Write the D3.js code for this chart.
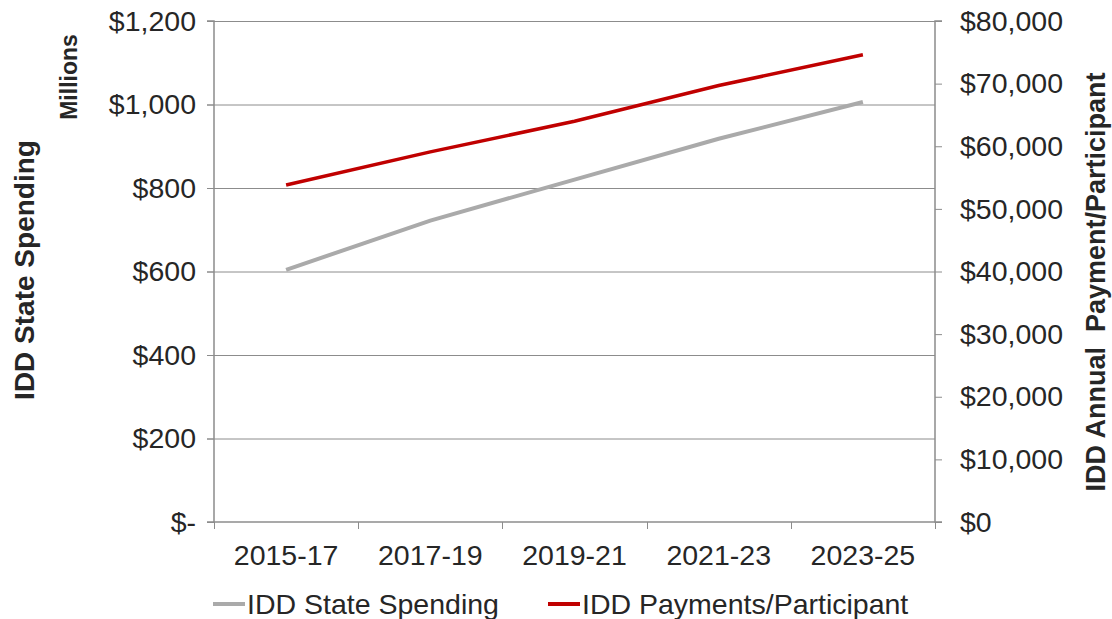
<!DOCTYPE html>
<html>
<head>
<meta charset="utf-8">
<script src="https://cdn.jsdelivr.net/npm/d3@7"></script>
<style>
  body { margin: 0; background: #fff; }
  text { font-family: "Liberation Sans", Arial, sans-serif; fill: #262626; }
</style>
</head>
<body>
<div class="chart"></div>
<script>
// data
var periods = ["2015-17", "2017-19", "2019-21", "2021-23", "2023-25"];
var stateSpending = [604, 722, 820, 918, 1006];          // millions, left axis
var paymentsPerParticipant = [53800, 59100, 64000, 69700, 74600]; // right axis
var leftTicks = [0, 200, 400, 600, 800, 1000, 1200];
var rightTicks = [0, 10000, 20000, 30000, 40000, 50000, 60000, 70000, 80000];

var svgWidth = 1112;
var svgHeight = 619;

var margin = { top: 21, right: 177, bottom: 97, left: 214 };
var width = svgWidth - margin.left - margin.right;
var height = svgHeight - margin.top - margin.bottom;

var fontSize = "28.5px";

var svg = d3.select(".chart")
  .append("svg")
  .attr("width", svgWidth)
  .attr("height", svgHeight);

var chartGroup = svg.append("g")
  .attr("transform", `translate(${margin.left}, ${margin.top})`);

// scales
var xBand = d3.scaleBand().domain(periods).range([0, width]).padding(0);
var xCenter = d => xBand(d) + xBand.bandwidth() / 2;

var yLeft = d3.scaleLinear().domain([0, 1200]).range([height, 0]);
var yRight = d3.scaleLinear().domain([0, 80000]).range([height, 0]);

var axisColor = "#8c8c8c";

// gridlines (left axis)
chartGroup.append("g")
  .selectAll("line")
  .data(leftTicks.filter(d => d > 0))
  .enter()
  .append("line")
  .attr("x1", -7)
  .attr("x2", width)
  .attr("y1", d => yLeft(d) + 0.5)
  .attr("y2", d => yLeft(d) + 0.5)
  .attr("stroke", axisColor)
  .attr("stroke-width", 1);

// left axis
var leftAxis = d3.axisLeft(yLeft)
  .tickValues(leftTicks)
  .tickSize(7)
  .tickPadding(11)
  .tickFormat(d => d === 0 ? "$-" : "$" + d3.format(",")(d));

var yAxisL = chartGroup.append("g").call(leftAxis);

// right axis
var rightAxis = d3.axisRight(yRight)
  .tickValues(rightTicks)
  .tickSize(7)
  .tickPadding(18)
  .tickFormat(d => "$" + d3.format(",")(d));

var yAxisR = chartGroup.append("g")
  .attr("transform", `translate(${width}, 0)`)
  .call(rightAxis);

// bottom axis, ticks between categories
var bottomAxis = d3.axisBottom(xBand)
  .tickSize(0)
  .tickPadding(23);

var xAxis = chartGroup.append("g")
  .attr("transform", `translate(0, ${height})`)
  .call(bottomAxis);

xAxis.selectAll(".between")
  .data(d3.range(periods.length + 1))
  .enter()
  .append("line")
  .attr("class", "between")
  .attr("x1", i => Math.round(i * xBand.bandwidth()) + 0.5)
  .attr("x2", i => Math.round(i * xBand.bandwidth()) + 0.5)
  .attr("y1", 0)
  .attr("y2", 7)
  .attr("stroke", axisColor);

[yAxisL, yAxisR, xAxis].forEach(function(ax) {
  ax.selectAll("path.domain").attr("stroke", axisColor).attr("stroke-width", 1.5);
  ax.selectAll(".tick line").attr("stroke", axisColor);
  ax.selectAll("text")
    .style("font-family", "'Liberation Sans', Arial, sans-serif")
    .style("font-size", fontSize)
    .attr("fill", "#262626");
});
yAxisL.select("path.domain").attr("d", `M-7,${height}H0V0H-7`);
yAxisR.select("path.domain").attr("d", `M7,0H0V${height}H7`);
xAxis.select("path.domain").attr("d", `M0,0H${width}`);

// lines
var line = function(scale) {
  return d3.line()
    .x((d, i) => xCenter(periods[i]))
    .y(d => scale(d));
};

chartGroup.append("path")
  .datum(stateSpending)
  .attr("fill", "none")
  .attr("stroke", "#aaaaaa")
  .attr("stroke-width", 4)
  .attr("d", line(yLeft));

chartGroup.append("path")
  .datum(paymentsPerParticipant)
  .attr("fill", "none")
  .attr("stroke", "#c00000")
  .attr("stroke-width", 3.5)
  .attr("d", line(yRight));

// axis titles
svg.append("text")
  .attr("transform", "translate(34, 270) rotate(-90)")
  .attr("text-anchor", "middle")
  .style("font-size", "28px")
  .style("font-weight", "bold")
  .text("IDD State Spending");

svg.append("text")
  .attr("transform", "translate(77, 77) rotate(-90)")
  .attr("text-anchor", "middle")
  .style("font-size", "23px")
  .style("font-weight", "bold")
  .text("Millions");

svg.append("text")
  .attr("transform", "translate(1105, 282) rotate(-90)")
  .attr("text-anchor", "middle")
  .style("font-size", "27px")
  .style("font-weight", "bold")
  .style("white-space", "pre")
  .text("IDD Annual  Payment/Participant");

// legend
var legendItems = [
  { name: "IDD State Spending", color: "#aaaaaa", x: 213 },
  { name: "IDD Payments/Participant", color: "#c00000", x: 548 }
];

var legend = svg.append("g").attr("transform", "translate(0, 604)");

legend.selectAll("line")
  .data(legendItems)
  .enter()
  .append("line")
  .attr("x1", d => d.x)
  .attr("x2", d => d.x + 32)
  .attr("y1", 0)
  .attr("y2", 0)
  .attr("stroke", d => d.color)
  .attr("stroke-width", 4);

legend.selectAll("text")
  .data(legendItems)
  .enter()
  .append("text")
  .attr("x", d => d.x + 34)
  .attr("y", 10)
  .style("font-size", fontSize)
  .text(d => d.name);
</script>
</body>
</html>
